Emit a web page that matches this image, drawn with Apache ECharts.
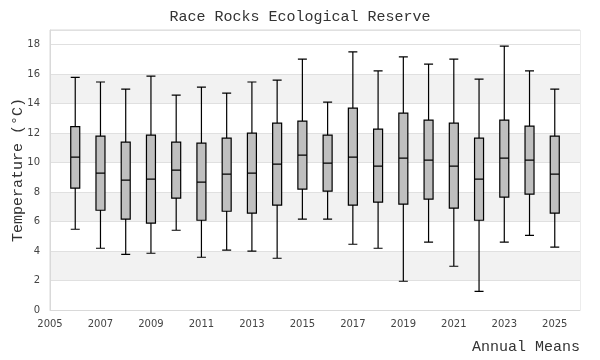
<!DOCTYPE html>
<html>
<head>
<meta charset="utf-8">
<script src="https://cdn.jsdelivr.net/npm/echarts@6/dist/echarts.min.js"></script>
<style>html,body{margin:0;padding:0;background:#fff}#c{width:600px;height:360px}</style>
</head>
<body>
<div id="c"></div>
<script>
const titleText = 'Race Rocks Ecological Reserve';
const xAxisName = 'Annual Means';
const yAxisName = 'Temperature (°C)';
const years   = [2006, 2007, 2008, 2009, 2010, 2011, 2012, 2013, 2014, 2015, 2016, 2017, 2018, 2019, 2020, 2021, 2022, 2023, 2024, 2025];
const mins    = [5.48, 4.19, 3.78, 3.85, 5.41, 3.58, 4.06, 3.99, 3.51, 6.16, 6.16, 4.46, 4.19, 1.95, 4.60, 2.97, 1.27, 4.60, 5.07, 4.26];
const q1s     = [8.27, 6.77, 6.16, 5.89, 7.59, 6.09, 6.70, 6.57, 7.11, 8.20, 8.06, 7.11, 7.32, 7.18, 7.52, 6.91, 6.09, 7.66, 7.86, 6.57];
const medians = [10.37, 9.29, 8.81, 8.88, 9.49, 8.68, 9.22, 9.29, 9.90, 10.51, 9.97, 10.37, 9.76, 10.31, 10.17, 9.76, 8.88, 10.31, 10.17, 9.22];
const q3s     = [12.45, 11.80, 11.39, 11.87, 11.39, 11.32, 11.66, 12.00, 12.68, 12.82, 11.87, 13.70, 12.28, 13.36, 12.89, 12.68, 11.66, 12.89, 12.48, 11.80];
const maxs    = [15.78, 15.47, 14.99, 15.87, 14.58, 15.13, 14.72, 15.47, 15.60, 17.03, 14.11, 17.51, 16.22, 17.17, 16.69, 17.03, 15.67, 17.91, 16.22, 14.99];

const boxData = years.map((y, i) => [y, mins[i], q1s[i], medians[i], q3s[i], maxs[i]]);

const mono = 'Liberation Mono';
const chart = echarts.init(document.getElementById('c'), null, {renderer: 'canvas'});
chart.setOption({
  animation: false,
  backgroundColor: '#ffffff',
  title: {
    text: titleText, left: 'center', top: 5,
    textStyle: {fontFamily: mono, fontSize: 15, fontWeight: 'normal', color: '#333'}
  },
  grid: {left: 50, right: 20, top: 30, bottom: 50, containLabel: false, outerBoundsMode: 'none', show: true, borderColor: '#d9d9d9', borderWidth: 1, backgroundColor: 'transparent'},
  xAxis: {
    type: 'value', min: 2005, max: 2026, interval: 2,
    name: xAxisName, nameLocation: 'end', nameGap: 0,
    nameTextStyle: {fontFamily: mono, fontSize: 15, color: '#333', align: 'right', verticalAlign: 'top', padding: [30, 0, 0, 0]},
    axisLine: {show: true, lineStyle: {color: '#d9d9d9'}},
    axisTick: {show: false},
    splitLine: {show: false},
    axisLabel: {showMaxLabel: false, formatter: v => String(v), fontFamily: 'DejaVu Sans', fontSize: 10, color: '#444', margin: 9}
  },
  yAxis: {
    type: 'value', min: 0, max: 19, interval: 2,
    name: yAxisName, nameLocation: 'middle', nameGap: 24, nameRotate: 90, nameMoveOverlap: false,
    nameTextStyle: {fontFamily: mono, fontSize: 15, color: '#333'},
    axisLine: {show: true, lineStyle: {color: '#d9d9d9'}},
    axisTick: {show: false},
    axisLabel: {showMaxLabel: false, fontFamily: 'DejaVu Sans', fontSize: 10, color: '#444', margin: 10},
    splitLine: {show: true, lineStyle: {color: '#e0e0e0', width: 1}},
    splitArea: {show: true, areaStyle: {color: ['#ffffff', '#f2f2f2', '#ffffff', '#f2f2f2', '#ffffff', '#f2f2f2', '#ffffff', '#f2f2f2', '#ffffff', '#ffffff']}}
  },
  series: [{
    type: 'boxplot',
    data: boxData,
    boxWidth: [9, 9],
    itemStyle: {color: '#bfbfbf', borderColor: '#000000', borderWidth: 1.2},
    emphasis: {disabled: true}
  }]
});
</script>
</body>
</html>
